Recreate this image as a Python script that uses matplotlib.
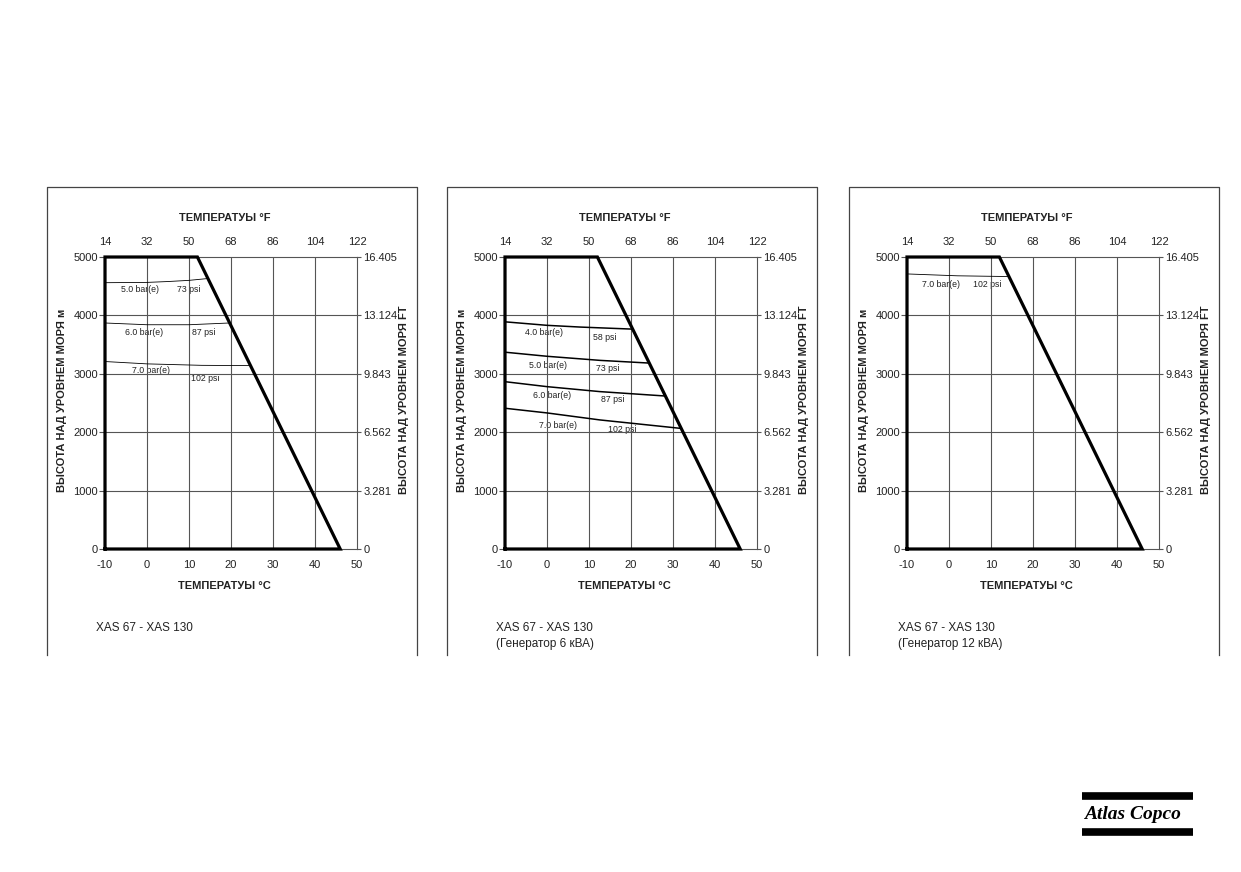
import matplotlib.pyplot as plt
from matplotlib.lines import Line2D

plt.rcParams['font.family'] = ['Liberation Sans', 'DejaVu Sans']
plt.rcParams['axes.unicode_minus'] = False

# axes values
temp_c = [-10, 0, 10, 20, 30, 40, 50]
temp_f = ['14', '32', '50', '68', '86', '104', '122']
alt_m = [0, 1000, 2000, 3000, 4000, 5000]
alt_ft = ['0', '3.281', '6.562', '9.843', '13.124', '16.405']

# operating envelope (same for all three)
env_c = [-10, -10, 12, 46, -10]
env_m = [0, 5000, 5000, 0, 0]

# panel 1: XAS 67 - XAS 130
p1_5bar_c = [-10, 0, 5, 10, 14.3]
p1_5bar_m = [4560, 4565, 4580, 4600, 4630]
p1_6bar_c = [-10, 0, 10, 19.6]
p1_6bar_m = [3870, 3840, 3840, 3870]
p1_7bar_c = [-10, 0, 13, 24.6]
p1_7bar_m = [3210, 3170, 3145, 3140]

# panel 2: generator 6 kVA
p2_4bar_c = [-10, 0, 8, 20.4]
p2_4bar_m = [3890, 3830, 3800, 3765]
p2_5bar_c = [-10, 0, 12.6, 24.0]
p2_5bar_m = [3370, 3300, 3230, 3185]
p2_6bar_c = [-10, 0, 12.6, 28.1]
p2_6bar_m = [2865, 2780, 2695, 2620]
p2_7bar_c = [-10, 0, 12.6, 31.9]
p2_7bar_m = [2410, 2330, 2210, 2065]

# panel 3: generator 12 kVA
p3_7bar_c = [-10, 2, 14.3]
p3_7bar_m = [4710, 4678, 4665]

W, H = 1241, 872
fig = plt.figure(figsize=(W / 100, H / 100), dpi=100)

GRID = '#555555'
TXT = '#222222'


def px_line(x, y, **kw):
    # draw a line given in pixel coords of the page
    fig.add_artist(Line2D([v / W for v in x], [1 - v / H for v in y],
                          transform=fig.transFigure, **kw))


def panel(x0, curves, labels, notes, lw_p):
    # page frame (open at the bottom)
    fx0, fx1 = x0 - 58, x0 + 312
    px_line([fx0, fx0, fx1, fx1], [655, 187, 187, 655], color='#444444', lw=0.9)

    ax = fig.add_axes([x0 / W, 1 - 549 / H, 252 / W, 292 / H])
    ax.set_xlim(-10, 50)
    ax.set_ylim(0, 5000)
    for s in ax.spines.values():
        s.set_color(GRID)
        s.set_linewidth(0.8)
    for c in temp_c[1:-1]:
        ax.axvline(c, color=GRID, lw=0.8, zorder=2)
    for m in alt_m[1:-1]:
        ax.axhline(m, color=GRID, lw=0.8, zorder=2)

    ax.set_xticks(temp_c)
    ax.set_yticks(alt_m)
    ax.tick_params(axis='x', length=0, pad=8, labelsize=8, labelcolor=TXT)
    ax.tick_params(axis='y', length=4, width=0.8, color=GRID, pad=1,
                   labelsize=8, labelcolor=TXT)

    top = ax.twiny()
    top.set_xlim(-10, 50)
    top.set_xticks(temp_c, labels=temp_f)
    top.tick_params(length=0, pad=7, labelsize=8, labelcolor=TXT)
    right = ax.twinx()
    right.set_ylim(0, 5000)
    right.set_yticks(alt_m, labels=alt_ft)
    right.tick_params(length=3, width=0.8, color=GRID, pad=1.5,
                      labelsize=8, labelcolor=TXT)
    for a in (top, right):
        for s in a.spines.values():
            s.set_visible(False)

    for cx, cy in curves:
        ax.plot(cx, cy, color='black', lw=lw_p, zorder=3)
    ax.plot(env_c, env_m, color='black', lw=2.3, zorder=5, clip_on=False,
            solid_joinstyle='miter')

    for txt, lx, ly in labels:
        ax.text(lx, ly, txt, fontsize=6.3, ha='left', va='center',
                color=TXT, zorder=1)

    ax.text(0.475, 1.135, 'ТЕМПЕРАТУЫ °F', transform=ax.transAxes,
            ha='center', va='center', fontsize=8, fontweight='bold', color=TXT)
    ax.text(0.475, -0.127, 'ТЕМПЕРАТУЫ °C', transform=ax.transAxes,
            ha='center', va='center', fontsize=8, fontweight='bold', color=TXT)
    ax.text(-0.17, 0.51, 'ВЫСОТА НАД УРОВНЕМ МОРЯ м', transform=ax.transAxes,
            ha='center', va='center', rotation=90, fontsize=8,
            fontweight='bold', color=TXT)
    ax.text(1.185, 0.51, 'ВЫСОТА НАД УРОВНЕМ МОРЯ FT', transform=ax.transAxes,
            ha='center', va='center', rotation=90, fontsize=8,
            fontweight='bold', color=TXT)

    for i, n in enumerate(notes):
        fig.text((x0 - 9) / W, 1 - (628 + 16 * i) / H, n, ha='left',
                 va='center', fontsize=8.5, color=TXT)


panel(105,
      [(p1_5bar_c, p1_5bar_m), (p1_6bar_c, p1_6bar_m), (p1_7bar_c, p1_7bar_m)],
      [('5.0 bar(e)', -6.2, 4452), ('73 psi', 7.1, 4452),
       ('6.0 bar(e)', -5.2, 3704), ('87 psi', 10.6, 3699),
       ('7.0 bar(e)', -3.6, 3053), ('102 psi', 10.4, 2911)],
      ['XAS 67 - XAS 130'], 0.6)

panel(505,
      [(p2_4bar_c, p2_4bar_m), (p2_5bar_c, p2_5bar_m),
       (p2_6bar_c, p2_6bar_m), (p2_7bar_c, p2_7bar_m)],
      [('4.0 bar(e)', -5.2, 3704), ('58 psi', 11.0, 3625),
       ('5.0 bar(e)', -4.3, 3134), ('73 psi', 11.7, 3094),
       ('6.0 bar(e)', -3.4, 2625), ('87 psi', 12.9, 2563),
       ('7.0 bar(e)', -1.9, 2123), ('102 psi', 14.6, 2038)],
      ['XAS 67 - XAS 130', '(Генератор 6 кВА)'], 1.1)

panel(907,
      [(p3_7bar_c, p3_7bar_m)],
      [('7.0 bar(e)', -6.5, 4521), ('102 psi', 5.7, 4521)],
      ['XAS 67 - XAS 130', '(Генератор 12 кВА)'], 0.6)

# Atlas Copco logo
px_line([1082, 1193], [795.5, 795.5], color='black', lw=5.5, solid_capstyle='butt')
px_line([1082, 1193], [832, 832], color='black', lw=5.5, solid_capstyle='butt')
fig.text(1132.5 / W, 1 - 814 / H, 'Atlas Copco', ha='center', va='center',
         fontsize=14, family='Liberation Serif', style='italic',
         fontweight='bold', color='black')

fig.savefig('out.png', dpi=100)
